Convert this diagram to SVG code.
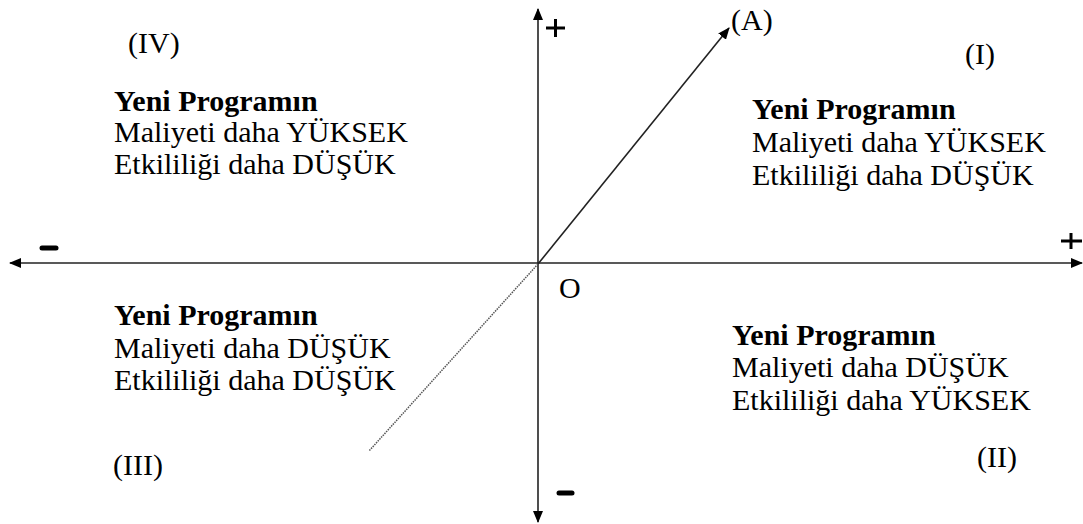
<svg xmlns="http://www.w3.org/2000/svg" width="1083" height="524" viewBox="0 0 1083 524">
<style>
text{font-family:"Liberation Serif","Times New Roman",serif;font-size:30px;fill:#000}
.b{font-weight:bold}
.ax{stroke:#222;stroke-width:1.6;fill:none}
.sg{stroke:#000;stroke-width:5;stroke-linecap:round}
.sg2{stroke:#000;stroke-width:3}
</style>
<defs>
<marker id="ah" viewBox="0 0 12 10" refX="11" refY="5" markerWidth="12" markerHeight="10" markerUnits="userSpaceOnUse" orient="auto">
<path d="M0,0 L12,5 L0,10 Z" fill="#000"/>
</marker>
</defs>
<rect width="1083" height="524" fill="#fff"/>
<g id="connectors">
<line class="ax" x1="538" y1="264" x2="538" y2="9" marker-end="url(#ah)"/>
<line class="ax" x1="538" y1="264" x2="538" y2="522" marker-end="url(#ah)"/>
<line class="ax" x1="538" y1="263" x2="10" y2="263" marker-end="url(#ah)"/>
<line class="ax" x1="538" y1="263" x2="1082" y2="263" marker-end="url(#ah)"/>
<line class="ax" x1="538" y1="264" x2="729" y2="28" marker-end="url(#ah)"/>
<line x1="538" y1="264" x2="369" y2="451" stroke="#555" stroke-width="1.5" stroke-dasharray="1.5 1"/>
</g>
<g id="signs">
<line class="sg" x1="42" y1="248" x2="56" y2="248"/>
<line class="sg" x1="559" y1="493" x2="572" y2="493"/>
<line class="sg2" x1="546" y1="28" x2="565" y2="28"/>
<line class="sg2" x1="555.5" y1="19" x2="555.5" y2="37"/>
<line class="sg2" x1="1061" y1="241" x2="1082" y2="241"/>
<line class="sg2" x1="1071" y1="233" x2="1071" y2="249"/>
</g>
<g id="labels">
<text x="731" y="30">(A)</text>
<text x="559" y="298">O</text>
<text x="128" y="53">(IV)</text>
<text x="965" y="64">(I)</text>
<text x="113" y="475">(III)</text>
<text x="977" y="467">(II)</text>
</g>
<g id="q4">
<text class="b" x="114" y="111">Yeni Programın</text>
<text x="114" y="142">Maliyeti daha YÜKSEK</text>
<text x="114" y="174">Etkililiği daha DÜŞÜK</text>
</g>
<g id="q1">
<text class="b" x="752" y="119">Yeni Programın</text>
<text x="752" y="152">Maliyeti daha YÜKSEK</text>
<text x="752" y="185">Etkililiği daha DÜŞÜK</text>
</g>
<g id="q3">
<text class="b" x="114" y="325">Yeni Programın</text>
<text x="114" y="358">Maliyeti daha DÜŞÜK</text>
<text x="114" y="390">Etkililiği daha DÜŞÜK</text>
</g>
<g id="q2">
<text class="b" x="732" y="345">Yeni Programın</text>
<text x="732" y="377">Maliyeti daha DÜŞÜK</text>
<text x="732" y="410">Etkililiği daha YÜKSEK</text>
</g>
</svg>
